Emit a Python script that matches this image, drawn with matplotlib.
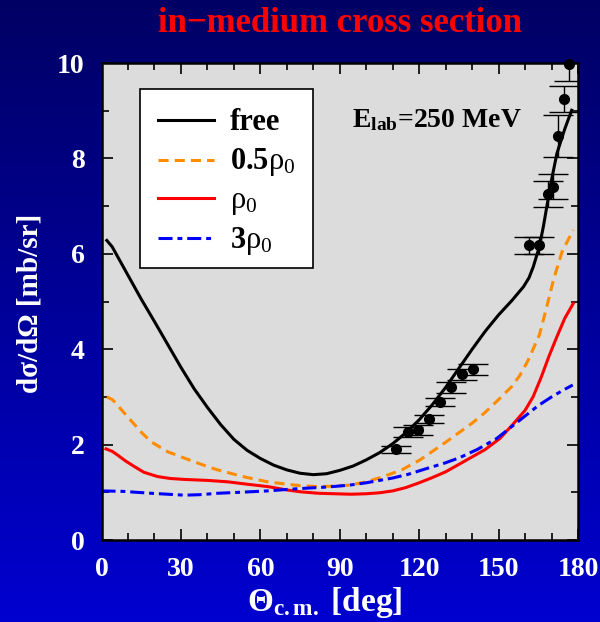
import numpy as np
import matplotlib
matplotlib.use("Agg")
import matplotlib.pyplot as plt
from matplotlib.colors import LinearSegmentedColormap
from matplotlib.patches import Rectangle
from matplotlib.ticker import MultipleLocator

plt.rcParams['font.family'] = ['Liberation Serif', 'DejaVu Serif']
plt.rcParams['mathtext.fontset'] = 'custom'
plt.rcParams['mathtext.rm'] = 'Liberation Serif'
plt.rcParams['mathtext.it'] = 'Liberation Serif:italic'
plt.rcParams['mathtext.bf'] = 'Liberation Serif:bold'

# ---------------- data ----------------
free_x = [2, 4, 7, 11, 15, 20, 25, 30, 35, 40, 45, 50, 55, 60, 65, 70, 75, 80, 85, 90,
          95, 100, 105, 110, 115, 120, 125, 130, 135, 140, 145, 150, 155, 159.4, 161.5,
          163.1, 165.4, 167, 168.2, 170, 172, 175, 177.6]
free_y = [6.28, 6.15, 5.85, 5.45, 5.05, 4.58, 4.10, 3.62, 3.17, 2.78, 2.42, 2.11, 1.88,
          1.71, 1.57, 1.47, 1.40, 1.37, 1.39, 1.46, 1.55, 1.68, 1.83, 2.02, 2.25, 2.52,
          2.84, 3.20, 3.60, 4.00, 4.38, 4.72, 5.02, 5.31, 5.50, 5.73, 6.15, 6.60, 6.99,
          7.55, 8.10, 8.62, 9.01]

half_x = [2, 4.2, 8, 12, 15, 18.7, 25, 32.6, 40, 43.9, 50, 55, 62.8, 70, 75, 81.7, 88,
          93.6, 100, 106, 113.4, 120.3, 130, 140, 145, 149.9, 155, 158, 161, 163, 165.4,
          168, 170.7, 174, 178.2]
half_y = [3.00, 2.94, 2.70, 2.45, 2.26, 2.06, 1.85, 1.69, 1.54, 1.47, 1.38, 1.31, 1.22,
          1.17, 1.14, 1.12, 1.13, 1.15, 1.22, 1.32, 1.47, 1.68, 2.05, 2.45, 2.68, 2.94,
          3.22, 3.45, 3.75, 4.00, 4.30, 4.85, 5.45, 6.05, 6.50]

rho_x = [1.7, 4, 6.1, 9, 12.4, 16, 21.2, 26, 31.3, 40, 47.7, 55, 62.8, 70, 75.3, 82, 88,
         94.3, 100, 105, 110, 115, 120, 125, 130, 138, 145, 150.5, 155, 160, 163, 166,
         169, 172, 175, 178.2]
rho_y = [1.91, 1.86, 1.78, 1.66, 1.54, 1.42, 1.33, 1.29, 1.27, 1.25, 1.22, 1.17, 1.12,
         1.05, 1.01, 0.98, 0.97, 0.96, 0.97, 0.99, 1.03, 1.10, 1.20, 1.31, 1.43, 1.68,
         1.90, 2.13, 2.40, 2.72, 3.00, 3.40, 3.85, 4.26, 4.65, 4.96]

three_x = [0, 8, 18.7, 25, 31.3, 37, 43.9, 52, 62.8, 70, 75.3, 85, 93.6, 100, 110, 116,
           122.9, 130, 135.4, 142, 149.3, 155, 160, 165, 170, 174, 178]
three_y = [1.03, 1.02, 0.98, 0.96, 0.94, 0.95, 0.98, 1.00, 1.03, 1.06, 1.08, 1.11, 1.15,
           1.20, 1.30, 1.38, 1.50, 1.62, 1.73, 1.90, 2.13, 2.38, 2.60, 2.82, 3.00, 3.13,
           3.25]

pt_x = [111.3, 115.7, 119.7, 123.7, 127.9, 132.0, 136.2, 140.2, 161.3, 165.4, 168.6,
        170.4, 172.6, 174.7, 176.7]
pt_y = [1.90, 2.27, 2.31, 2.54, 2.89, 3.20, 3.47, 3.58, 6.18, 6.18, 7.25, 7.41, 8.47,
        9.24, 9.98]
pt_err = [0.07, 0.10, 0.10, 0.08, 0.09, 0.11, 0.12, 0.12, 0.18, 0.18, 0.27, 0.27, 0.43,
          0.27, 0.35]

x_ticks = [0, 30, 60, 90, 120, 150, 180]
y_ticks = [0, 2, 4, 6, 8, 10]

labels = ['free', r'$\mathbf{0.5}\mathrm{\rho}_\mathrm{0}$', r'$\mathrm{\rho}_\mathrm{0}$',
          r'$\mathbf{3}\mathrm{\rho}_\mathrm{0}$']

# ---------------- figure ----------------
fig = plt.figure(figsize=(6, 6.22), dpi=100)

bg = fig.add_axes([0, 0, 1, 1], zorder=-10)
bg.axis('off')
cmap = LinearSegmentedColormap.from_list('bg', [(0, 0, 100/255), (0, 0, 208/255)])
bg.imshow(np.linspace(0, 1, 256).reshape(-1, 1), aspect='auto', cmap=cmap,
          extent=[0, 1, 0, 1], origin='upper')

ax = fig.add_axes([0.1692, 0.1318, 0.7942, 0.7669])
ax.set_facecolor('#dcdcdc')

lw = 2.2
d_half = (3.3, 2.0)
d_three = (4.6, 1.6, 1.6, 1.6)
ax.plot(free_x, free_y, color='black', lw=lw)
ax.plot(half_x, half_y, color='#ff8c00', lw=lw, dashes=d_half)
ax.plot(rho_x, rho_y, color='#ff0000', lw=lw)
ax.plot(three_x, three_y, color='#0000ff', lw=lw, dashes=d_three)

ax.errorbar(pt_x, pt_y, yerr=pt_err, fmt='none', ecolor='black', elinewidth=1,
            capsize=11, capthick=1)
ax.plot(pt_x, pt_y, 'o', color='black', ms=7, clip_on=False, zorder=5)

ax.set_xlim(0, 180)
ax.set_ylim(0, 10)
ax.set_xticks(x_ticks)
ax.set_yticks(y_ticks)
ax.xaxis.set_minor_locator(MultipleLocator(10))
ax.yaxis.set_minor_locator(MultipleLocator(1))
ax.tick_params(which='both', direction='in', top=True, right=True, color='black')
ax.tick_params(which='major', length=8, width=1.2, pad=12, labelsize=20,
               labelcolor='white')
ax.tick_params(which='minor', length=5, width=1.2)
for lab in ax.get_xticklabels() + ax.get_yticklabels():
    lab.set_fontweight('bold')
for sp in ax.spines.values():
    sp.set_linewidth(1.8)
    sp.set_color('black')

# legend (manual box)
ax.add_patch(Rectangle((0.081, 0.570), 0.362, 0.375, transform=ax.transAxes,
                       facecolor='white', edgecolor='black', lw=1.2, zorder=6))
rows = [0.880, 0.797, 0.716, 0.633]
handles = [('black', None), ('#ff8c00', d_half), ('#ff0000', None),
           ('#0000ff', d_three)]
for (c, d), yy, lab in zip(handles, rows, labels):
    kw = dict(color=c, lw=lw, transform=ax.transAxes, zorder=7)
    if d is not None:
        kw['dashes'] = d
    ax.plot([0.119, 0.235], [yy, yy], **kw)
    ax.text(0.270, yy - 0.020, lab, transform=ax.transAxes, fontsize=22,
            fontweight='bold', va='baseline', ha='left', zorder=7)

ax.text(0.526, 0.866, r'$\mathbf{E}_{\mathbf{lab}}$=250 MeV', transform=ax.transAxes,
        fontsize=20, fontweight='bold', va='baseline', ha='left')

fig.text(0.567, 0.948, 'in\u2212medium cross section', color='red', fontsize=25,
         fontweight='bold', ha='center', va='baseline')
fig.text(0.05, 0.512, 'd\u03c3/d\u03a9 [mb/sr]', color='white', fontsize=21,
         fontweight='bold', ha='center', va='center', rotation=90)
fig.text(0.542, 0.018, r'$\mathbf{\Theta}_{\mathbf{c{.}m{.}}}$ [deg]', color='white',
         fontsize=24, fontweight='bold', ha='center', va='baseline')

fig.savefig('out.png', dpi=100)
